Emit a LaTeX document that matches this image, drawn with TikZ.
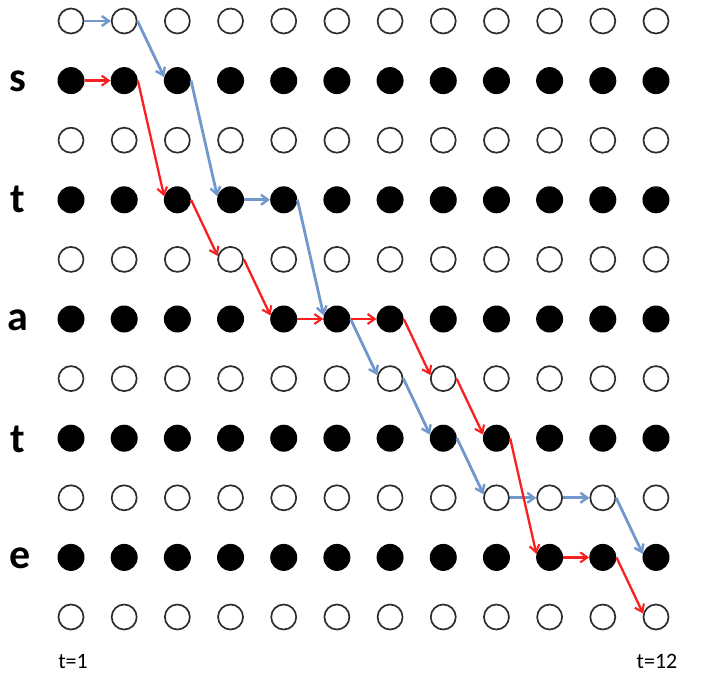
\documentclass[tikz,border=0pt]{standalone}
\usepackage{fontspec}
\setmainfont{Carlito}
\usetikzlibrary{arrows.meta}
\definecolor{pblue}{RGB}{112,152,204}
\definecolor{pred}{RGB}{250,30,30}
\definecolor{ring}{RGB}{45,45,45}
\begin{document}
\begin{tikzpicture}[x=1pt,y=-1pt,
  emptydot/.style={circle,draw=ring,line width=1.7pt,fill=white,minimum size=25pt,inner sep=0pt},
  fulldot/.style={circle,fill=black,minimum size=27pt,inner sep=0pt},
  lab/.style={font=\fontsize{42}{42}\selectfont\bfseries,anchor=center},
  tlab/.style={font=\fontsize{22}{22}\selectfont},
  barrow/.style={draw=pblue,line width=2.8pt,-{Straight Barb[length=7pt,width=10pt,line width=2.4pt]}},
  rarrow/.style={draw=pred,line width=2.3pt,-{Straight Barb[length=7pt,width=10pt,line width=2.1pt]}}]
\useasboundingbox (0,0) rectangle (706,677);
\foreach \r in {0,...,10}{
  \foreach \c in {0,...,11}{
    \pgfmathsetmacro{\xx}{71+53.18*\c}
    \pgfmathsetmacro{\yy}{21+59.6*\r}
    \ifodd\r
      \node[fulldot] (n\r-\c) at (\xx,\yy) {};
    \else
      \node[emptydot] (n\r-\c) at (\xx,\yy) {};
    \fi
  }
}
\node[lab] (ls) at (18,81) {s};
\node[lab] (lt1) at (18,199) {t};
\node[lab] (la) at (18,320) {a};
\node[lab] (lt2) at (18,439) {t};
\node[lab] (le) at (20,558) {e};
\node[tlab] (t1) at (73,661) {t=1};
\node[tlab] (t12) at (657,661) {t=12};
% blue path
\draw[barrow] (n0-0.east) -- (n0-1.west);
\draw[barrow] (n0-1.east) -- (n1-2.165);
\draw[barrow] (n1-2.east) -- (n3-3.165);
\draw[barrow] (n3-3.east) -- (n3-4.west);
\draw[barrow] (n3-4.east) -- (n5-5.165);
\draw[barrow] (n5-5.east) -- (n6-6.165);
\draw[barrow] (n6-6.east) -- (n7-7.165);
\draw[barrow] (n7-7.east) -- (n8-8.165);
\draw[barrow] (n8-8.east) -- (n8-9.west);
\draw[barrow] (n8-9.east) -- (n8-10.west);
\draw[barrow] (n8-10.east) -- (n9-11.165);
% red path
\draw[rarrow] (n1-0.east) -- (n1-1.west);
\draw[rarrow] (n1-1.east) -- (n3-2.165);
\draw[rarrow] (n3-2.east) -- (n4-3.165);
\draw[rarrow] (n4-3.east) -- (n5-4.165);
\draw[rarrow] (n5-4.east) -- (n5-5.west);
\draw[rarrow] (n5-5.east) -- (n5-6.west);
\draw[rarrow] (n5-6.east) -- (n6-7.165);
\draw[rarrow] (n6-7.east) -- (n7-8.165);
\draw[rarrow] (n7-8.east) -- (n9-9.165);
\draw[rarrow] (n9-9.east) -- (n9-10.west);
\draw[rarrow] (n9-10.east) -- (n10-11.165);
\end{tikzpicture}
\end{document}
